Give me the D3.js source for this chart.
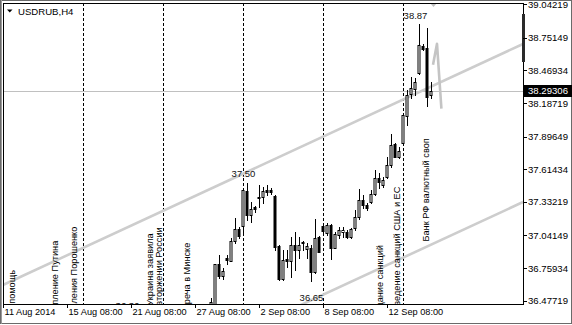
<!DOCTYPE html>
<html><head><meta charset="utf-8">
<script src="https://cdn.jsdelivr.net/npm/d3@7/dist/d3.min.js"></script>
<style>html,body{margin:0;padding:0;background:#fff}svg{display:block}</style>
</head><body>
<script>
// ---------- data ----------
const symbolTitle = "USDRUB,H4";
const barIndex = [52,53,54,55,56,57,58,59,60,61,62,63,64,65,66,67,68,69,70,71,72,73,74,75,76,77,78,79,80,81,82,83,84,85,86,87,88,89,90,91,92,93,94,95,96,97,98,99,100,101,102,103,104,105,106,107];
const openP  = [36.40,36.45,36.792,36.691,36.847,36.825,36.994,37.095,37.124,37.429,37.219,37.288,37.377,37.372,37.435,37.431,37.383,36.951,36.665,36.838,36.823,36.959,36.916,36.988,36.922,36.931,36.728,37.031,37.124,37.066,37.132,36.936,37.046,37.072,37.074,37.026,37.104,37.199,37.349,37.305,37.334,37.398,37.537,37.479,37.550,37.652,37.831,37.723,37.845,38.076,38.263,38.309,38.445,38.684,38.662,38.257];
const highP  = [36.50,36.795,36.873,36.763,36.873,37.020,37.190,37.118,37.453,37.500,37.334,37.297,37.479,37.464,37.479,37.453,37.392,36.959,36.916,36.916,37.031,37.074,37.031,36.990,36.979,36.959,37.182,37.037,37.147,37.152,37.141,37.074,37.118,37.118,37.089,37.104,37.262,37.441,37.392,37.320,37.435,37.608,37.585,37.550,37.723,37.920,37.839,37.810,38.093,38.301,38.416,38.402,38.870,38.699,38.837,38.370];
const lowP   = [36.35,36.42,36.671,36.662,36.795,36.821,36.974,37.017,37.074,37.176,37.161,37.245,37.288,37.325,37.392,37.401,36.916,36.655,36.658,36.771,36.680,36.743,36.844,36.916,36.844,36.650,36.714,36.899,37.063,37.046,36.835,36.931,37.017,37.031,37.017,37.020,37.089,37.182,37.277,37.262,37.320,37.392,37.450,37.464,37.537,37.637,37.721,37.710,37.842,37.998,38.229,38.257,38.439,38.647,38.162,38.231];
const closeP = [36.47,36.792,36.691,36.737,36.829,36.996,37.095,37.037,37.435,37.219,37.268,37.271,37.363,37.429,37.421,37.422,36.939,36.665,36.829,36.823,36.959,36.916,36.959,36.974,36.951,36.728,37.017,36.901,37.080,37.132,36.936,37.052,37.089,37.085,37.031,37.095,37.204,37.349,37.305,37.277,37.398,37.537,37.507,37.522,37.652,37.825,37.723,37.773,38.084,38.257,38.315,38.373,38.690,38.656,38.243,38.29306];

const priceTicks = [39.04219,38.75149,38.46934,38.18719,37.89649,37.61434,37.33219,37.04149,36.75934,36.47719];
const timeTickBars = [0,16,32,48,64,80,96];
const timeTickLabels = ["11 Aug 2014","15 Aug 08:00","21 Aug 08:00","27 Aug 08:00","2 Sep 08:00","8 Sep 08:00","12 Sep 08:00"];
const weekSeparatorBars = [20,40,60,80,100];
const lastPrice = 38.29306;

// trend channel (bar, price)
const channelUpper = [[0,36.613],[130,38.699]];
const channelLower = [[60,36.208],[130,37.331]];

// news annotations: text, bar of baseline, price where the text ends (top)
const eventTexts  = ["Гуманитарная помощь","Выступление Путина","Заявления Порошенко","Украина заявила","о вторжении России","Встреча в Минске","Ожидание санкций","Введение санкций США и ЕС","Банк РФ валютный своп"];
const eventBars   = [2.9,13.5,18.4,37.4,39.5,46.5,94.75,99,106.4];
const eventPrices = [36.743,36.996,37.118,37.060,37.112,36.979,36.959,37.464,37.883];

// high / low labels (text, bar, baseline price)
const extremeTexts  = ["37.50","38.87","36.65","36.36"];
const extremeBars   = [60,103,77,31];
const extremePrices = [37.548,38.917,36.477,36.4095];

// ---------- layout ----------
const W = 572, H = 325;
const plot = {left:3, top:3, right:523, bottom:304};

const x = d3.scaleLinear().domain([0,130]).range([3,523]);
const y = d3.scaleLinear().domain([36.47719,39.04219]).range([300.7,4.3]);
const cx = i => Math.round(x(i)) + 0.5;
const py = p => Math.round(y(p));

const svg = d3.select("body").append("svg").attr("width",W).attr("height",H);
svg.append("rect").attr("width",W).attr("height",H).attr("fill","#fff");

const defs = svg.append("defs");
defs.append("clipPath").attr("id","plotClip").append("rect")
  .attr("x",plot.left+1).attr("y",plot.top+1)
  .attr("width",plot.right-plot.left-1).attr("height",plot.bottom-plot.top-1);

const g = svg.append("g").attr("clip-path","url(#plotClip)");

// week separators
g.selectAll("line.sep").data(weekSeparatorBars).join("line")
  .attr("x1",d=>cx(d)).attr("x2",d=>cx(d))
  .attr("y1",plot.top).attr("y2",plot.bottom)
  .attr("stroke","#000").attr("stroke-width",1).attr("stroke-dasharray","3,2");

// current price line
g.append("line").attr("x1",plot.left).attr("x2",plot.right)
  .attr("y1",py(lastPrice)+0.5).attr("y2",py(lastPrice)+0.5)
  .attr("stroke","#c0c0c0").attr("stroke-width",1);

// channel lines
[channelUpper, channelLower].forEach(pts=>{
  g.append("line")
    .attr("x1",x(pts[0][0])).attr("y1",y(pts[0][1]))
    .attr("x2",x(pts[1][0])).attr("y2",y(pts[1][1]))
    .attr("stroke","#cdcdcd").attr("stroke-width",2.6);
});

// decorative gray stroke near last bar
g.append("path").attr("d",`M${x(107.5)},${y(38.52)} L${x(108.5)},${y(38.70)} L${x(109.6)},${y(38.14)}`)
  .attr("fill","none").attr("stroke","#c4c4c4").attr("stroke-width",2.6).attr("stroke-linejoin","round");

// event texts (rotated)
g.selectAll("text.ev").data(eventTexts).join("text")
  .attr("transform",(d,i)=>`translate(${x(eventBars[i])+0.5},${y(eventPrices[i])}) rotate(-90)`)
  .attr("text-anchor","end")
  .attr("font-family","Liberation Sans, Arial, sans-serif").attr("font-size",9.2)
  .attr("fill","#000").text(d=>d);

// candles
const candles = g.selectAll("g.c").data(barIndex).join("g");
candles.append("line")
  .attr("x1",(d)=>cx(d)).attr("x2",(d)=>cx(d))
  .attr("y1",(d,i)=>py(highP[i])).attr("y2",(d,i)=>py(lowP[i])+1)
  .attr("stroke","#000").attr("stroke-width",1);
candles.append("rect")
  .attr("x",d=>cx(d)-1.5+0.5-0.5)
  .attr("width",2)
  .attr("y",(d,i)=>py(Math.max(openP[i],closeP[i]))+0.5)
  .attr("height",(d,i)=>Math.max(0.01, py(Math.min(openP[i],closeP[i]))-py(Math.max(openP[i],closeP[i]))))
  .attr("fill",(d,i)=>closeP[i]>=openP[i]?"#fff":"#000")
  .attr("stroke","#000").attr("stroke-width",1);

// extreme labels
g.selectAll("text.ex").data(extremeTexts).join("text")
  .attr("x",(d,i)=>cx(extremeBars[i])).attr("y",(d,i)=>y(extremePrices[i]))
  .attr("text-anchor","middle")
  .attr("font-family","Liberation Sans, Arial, sans-serif").attr("font-size",9.5)
  .attr("fill","#111").text(d=>d);

// chart-shift marker
svg.append("path").attr("d","M430,3 L437,3 L433.5,7 Z").attr("fill","#c0c0c0");

// plot frame
svg.append("rect").attr("x",plot.left+0.5).attr("y",plot.top+0.5)
  .attr("width",plot.right-plot.left).attr("height",plot.bottom-plot.top)
  .attr("fill","none").attr("stroke","#000").attr("stroke-width",1);
// outer frame
svg.append("rect").attr("x",0.5).attr("y",0.5).attr("width",W-1).attr("height",H-2)
  .attr("fill","none").attr("stroke","#6a6a6a").attr("stroke-width",1);
svg.append("line").attr("x1",1.5).attr("x2",1.5).attr("y1",0).attr("y2",H-1).attr("stroke","#9a9a9a");

// right scroll indicator
svg.append("rect").attr("x",522).attr("y",14).attr("width",3).attr("height",48).attr("fill","#2a2a2a");

// price axis
const yAxis = svg.append("g");
yAxis.selectAll("line").data(priceTicks).join("line")
  .attr("x1",plot.right).attr("x2",plot.right+4)
  .attr("y1",d=>py(d)+0.5).attr("y2",d=>py(d)+0.5).attr("stroke","#000");
yAxis.selectAll("text").data(priceTicks).join("text")
  .attr("x",528).attr("y",d=>y(d)).attr("dy","0.36em")
  .attr("font-family","Liberation Sans, Arial, sans-serif").attr("font-size",9.6)
  .attr("fill","#000").text(d=>d.toFixed(5));

// last price label
svg.append("rect").attr("x",524).attr("y",py(lastPrice)-6).attr("width",48).attr("height",12).attr("fill","#000");
svg.append("text").attr("x",528).attr("y",y(lastPrice)).attr("dy","0.36em")
  .attr("font-family","Liberation Sans, Arial, sans-serif").attr("font-size",9.6)
  .attr("fill","#fff").text(lastPrice.toFixed(5));

// time axis
const xAxis = svg.append("g");
xAxis.selectAll("line").data(timeTickBars).join("line")
  .attr("x1",d=>cx(d)).attr("x2",d=>cx(d))
  .attr("y1",plot.bottom).attr("y2",plot.bottom+4).attr("stroke","#000");
xAxis.selectAll("text").data(timeTickLabels).join("text")
  .attr("x",(d,i)=>x(timeTickBars[i])+1.5).attr("y",314.5)
  .attr("font-family","Liberation Sans, Arial, sans-serif").attr("font-size",9.2)
  .attr("fill","#000").text(d=>d);

// title
svg.append("path").attr("d","M7,9.5 L12.5,9.5 L9.75,12.5 Z").attr("fill","#000");
svg.append("text").attr("x",18).attr("y",14.5)
  .attr("font-family","Liberation Sans, Arial, sans-serif").attr("font-size",9.6)
  .attr("fill","#000").text(symbolTitle);
</script>
</body></html>
